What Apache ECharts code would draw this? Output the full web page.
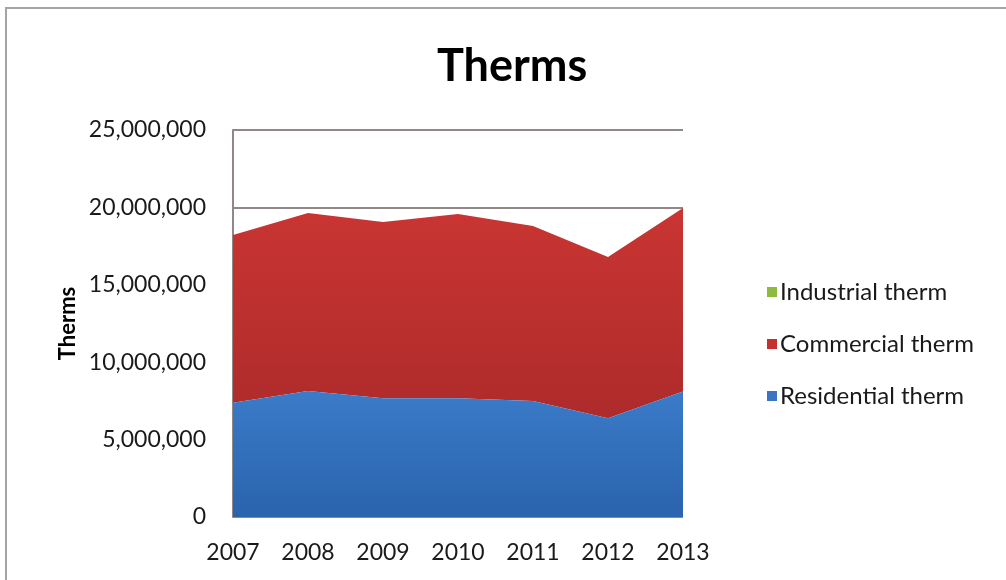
<!DOCTYPE html>
<html>
<head>
<meta charset="utf-8">
<title>Therms</title>
<script src="https://cdn.jsdelivr.net/npm/echarts@6/dist/echarts.min.js"></script>
<style>
  html, body { margin: 0; padding: 0; background: #ffffff; }
  #chart { width: 1006px; height: 580px; }
</style>
</head>
<body>
<div id="chart"></div>
<script>
// Yearly gas usage, in therms, by customer class
const years = ['2007', '2008', '2009', '2010', '2011', '2012', '2013'];
const residential = [7380000, 8140000, 7670000, 7670000, 7490000, 6380000, 8100000];
const commercial = [10840000, 11500000, 11390000, 11900000, 11310000, 10420000, 11860000];
const industrial = [0, 0, 0, 0, 0, 0, 0];
const yTicks = [0, 5000000, 10000000, 15000000, 20000000, 25000000];

const FONT = 'Lato';

function grad(top, bottom) {
  return new echarts.graphic.LinearGradient(0, 0, 0, 1, [
    { offset: 0, color: top },
    { offset: 1, color: bottom }
  ]);
}

const chart = echarts.init(document.getElementById('chart'), null, { renderer: 'canvas' });

chart.setOption({
  backgroundColor: '#ffffff',
  animation: false,
  textStyle: { fontFamily: FONT },
  title: {
    text: 'Therms',
    left: 432,
    top: 39,
    textStyle: { fontFamily: FONT, fontSize: 45, fontWeight: 'bold', color: '#000000' }
  },
  graphic: [{
    type: 'rect',
    shape: { x: 6, y: 8, width: 1040, height: 620 },
    style: { fill: 'none', stroke: '#a9a3a0', lineWidth: 2 },
    silent: true
  }],
  legend: {
    orient: 'vertical',
    left: 762,
    top: 275,
    itemGap: 28,
    itemWidth: 10,
    itemHeight: 10,
    icon: 'rect',
    data: ['Industrial therm', 'Commercial therm', 'Residential therm'],
    textStyle: { fontFamily: FONT, fontSize: 24, color: '#1a1a1a', padding: [0, 0, 0, -2] }
  },
  grid: { left: 233, right: 323, top: 130, bottom: 63, containLabel: false },
  xAxis: {
    type: 'category',
    data: years,
    boundaryGap: false,
    axisLine: { show: false },
    axisTick: { show: false },
    axisLabel: { fontFamily: FONT, fontSize: 23, color: '#1a1a1a', margin: 24 },
    splitLine: { show: false }
  },
  yAxis: {
    type: 'value',
    min: yTicks[0],
    max: yTicks[yTicks.length - 1],
    interval: yTicks[1] - yTicks[0],
    name: 'Therms',
    nameLocation: 'middle',
    nameGap: 154,
    nameRotate: 90,
    nameTextStyle: { fontFamily: FONT, fontSize: 22, fontWeight: 'bold', color: '#000000' },
    axisLine: { show: true, lineStyle: { color: '#8f8886', width: 2 } },
    axisTick: { show: false },
    axisLabel: {
      fontFamily: FONT, fontSize: 23, color: '#1a1a1a', margin: 27,
      formatter: v => v.toLocaleString('en-US')
    },
    splitLine: { show: true, lineStyle: { color: '#8f8886', width: 2 } }
  },
  series: [
    {
      name: 'Residential therm',
      type: 'line',
      stack: 'total',
      data: residential,
      showSymbol: false,
      lineStyle: { width: 0 },
      itemStyle: { color: '#3a74c2' },
      areaStyle: { color: grad('#3b7bc8', '#2a63ae'), opacity: 1 },
      z: 3
    },
    {
      name: 'Commercial therm',
      type: 'line',
      stack: 'total',
      data: commercial,
      showSymbol: false,
      lineStyle: { width: 0 },
      itemStyle: { color: '#c3302e' },
      areaStyle: { color: grad('#c93532', '#ae2b2b'), opacity: 1 },
      z: 2
    },
    {
      name: 'Industrial therm',
      type: 'line',
      stack: 'total',
      data: industrial,
      showSymbol: false,
      lineStyle: { width: 0 },
      itemStyle: { color: '#8dbb3e' },
      areaStyle: { color: '#8dbb3e', opacity: 1 },
      z: 1
    }
  ]
});
</script>
</body>
</html>
